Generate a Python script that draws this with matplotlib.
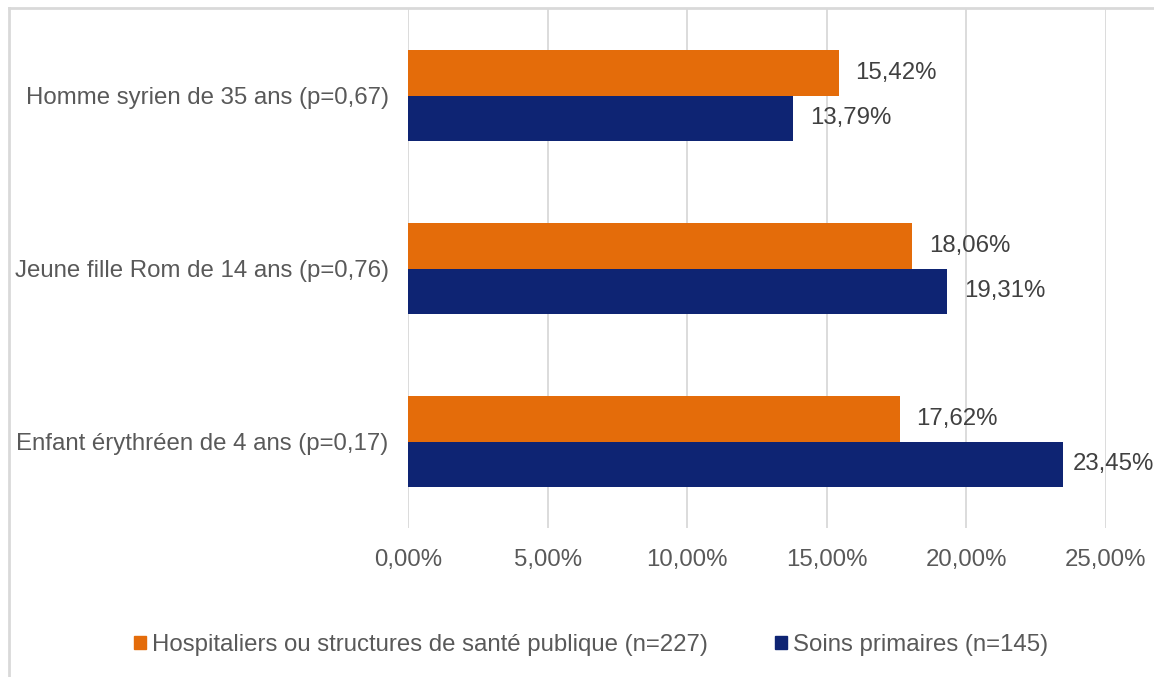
import matplotlib.pyplot as plt
from matplotlib.lines import Line2D
from matplotlib.patches import Patch
import numpy as np

plt.rcParams['font.family'] = ['Liberation Sans', 'DejaVu Sans']

# categories top to bottom
categories = ['Homme syrien de 35 ans (p=0,67)',
              'Jeune fille Rom de 14 ans (p=0,76)',
              'Enfant érythréen de 4 ans (p=0,17)']
hospital = [15.42, 18.06, 17.62]
primary = [13.79, 19.31, 23.45]
series_names = ['Hospitaliers ou structures de santé publique (n=227)',
                'Soins primaires (n=145)']
xticks = [0, 5, 10, 15, 20, 25]

orange = '#E46C0A'
navy = '#0E2473'
txt = '#595959'
fs = 17.3

fig = plt.figure(figsize=(11.54, 6.77), dpi=100)
ax = fig.add_axes([408 / 1154, 1 - 528 / 677, (1106 - 408) / 1154, (528 - 9) / 677])

y = np.arange(len(categories))
h = 0.262
ax.barh(y - h / 2, hospital, height=h, color=orange, zorder=3)
ax.barh(y + h / 2, primary, height=h, color=navy, zorder=3)


def label(v, yy):
    # labels near the right edge sit closer to the bar, like Excel does
    off = 12 if v < 22 else 7
    ax.annotate(f'{v:.2f}%'.replace('.', ','), (v, yy), xytext=(off, 0),
                textcoords='offset points', va='center', fontsize=fs,
                color='#404040', annotation_clip=False)


for i in range(len(categories)):
    label(hospital[i], y[i] - h / 2)
    label(primary[i], y[i] + h / 2)

ax.set_ylim(2.5, -0.5)
ax.set_xlim(0, 25)
ax.set_yticks(y)
ax.set_yticklabels(categories, fontsize=fs, color=txt)
ax.set_xticks(xticks)
ax.set_xticklabels([f'{t:.2f}%'.replace('.', ',') for t in xticks], fontsize=fs, color=txt)
ax.tick_params(length=0)
ax.tick_params(axis='x', pad=15)
ax.tick_params(axis='y', pad=14)
ax.grid(axis='x', color='#D9D9D9', linewidth=1.3, zorder=0)
for s in ax.spines.values():
    s.set_visible(False)

handles = [Patch(color=orange), Patch(color=navy)]
fig.legend(handles, series_names, loc='center', bbox_to_anchor=(591 / 1154, 1 - 645 / 677),
           ncol=2, frameon=False, fontsize=fs, labelcolor=txt,
           handlelength=0.5, handleheight=0.5, handletextpad=0.25, columnspacing=2.8)

# outer chart border (top and left visible)
fig.add_artist(Line2D([9 / 1154, 1], [1 - 8 / 677, 1 - 8 / 677], color='#D9D9D9', linewidth=2))
fig.add_artist(Line2D([9 / 1154, 9 / 1154], [0, 1 - 8 / 677], color='#D9D9D9', linewidth=2))

fig.savefig('out.png', dpi=100, facecolor='white')
